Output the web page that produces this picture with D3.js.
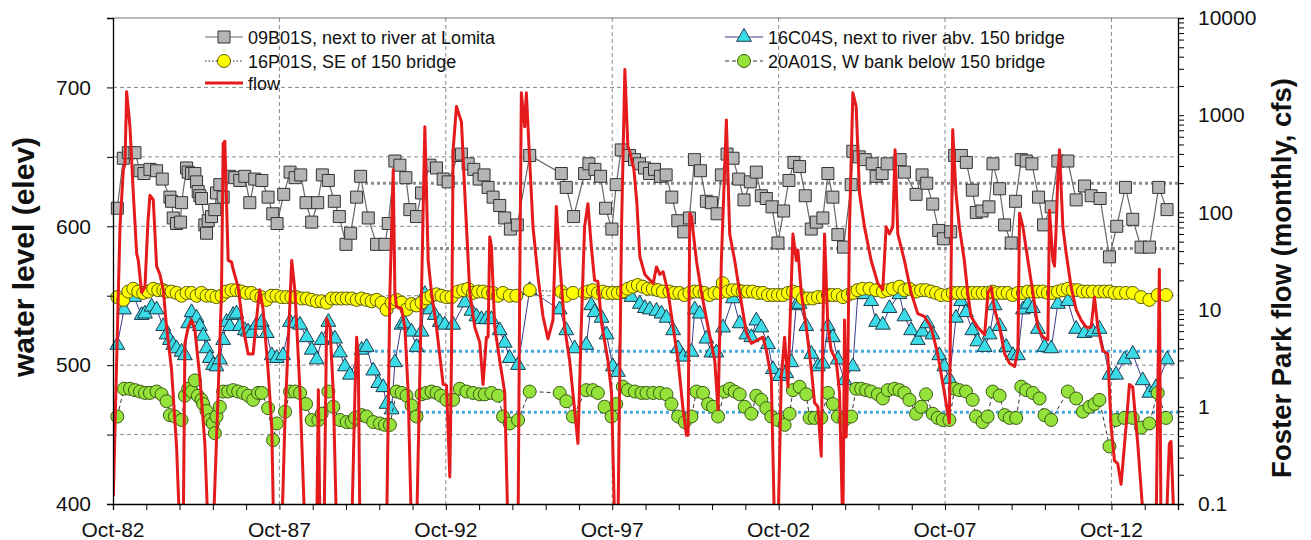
<!DOCTYPE html>
<html>
<head>
<meta charset="utf-8">
<script src="https://cdn.jsdelivr.net/npm/d3@7"></script>
<style>
    body { margin: 0; background: #fff; }
    text { font-family: "Liberation Sans", Arial, sans-serif; fill: #111; }
</style>
</head>
<body>
<div id="chart"></div>
<script>
// ---- data: [decimal year, value] ----
const well09B01S = [
    [1982.88,613],[1983.06,649],[1983.21,653],[1983.41,653],[1983.56,640],[1983.68,638],[1983.86,641],[1984.06,640],
    [1984.23,634],[1984.46,621],[1984.51,618],[1984.56,606],[1984.66,602],[1984.78,603],[1984.81,617],[1984.96,642],
    [1985.01,639],[1985.11,638],[1985.21,638],[1985.26,632],[1985.31,625],[1985.36,622],[1985.41,620],[1985.51,601],
    [1985.56,595],[1985.61,604],[1985.71,607],[1985.81,612],[1985.86,624],[1985.96,630],[1986.06,621],[1986.26,636],
    [1986.41,635],[1986.56,633],[1986.71,636],[1986.86,617],[1987.01,634],[1987.22,633],[1987.41,621],[1987.55,609],
    [1987.68,602],[1987.88,623],[1988.07,639],[1988.22,635],[1988.39,637],[1988.55,617],[1988.72,603],[1988.90,617],
    [1989.04,637],[1989.22,633],[1989.40,618],[1989.55,607],[1989.75,587],[1989.89,595],[1990.07,621],[1990.19,636],
    [1990.42,606],[1990.67,587],[1990.92,587],[1991.02,602],[1991.22,647],[1991.37,644],[1991.55,635],[1991.67,612],
    [1991.87,607],[1992.02,624],[1992.27,644],[1992.47,642],[1992.67,634],[1992.82,632],[1993.12,651],[1993.22,652],
    [1993.42,645],[1993.59,641],[1993.75,634],[1993.90,637],[1994.02,628],[1994.17,621],[1994.37,615],[1994.52,606],
    [1994.69,598],[1994.90,601],[1995.27,651],[1996.22,638],[1996.37,628],[1996.59,607],[1996.92,638],[1997.05,645],
    [1997.23,641],[1997.40,636],[1997.55,613],[1997.74,598],[1997.87,630],[1998.02,655],[1998.27,651],[1998.42,648],
    [1998.57,645],[1998.72,642],[1998.87,638],[1999.02,641],[1999.20,636],[1999.37,637],[1999.54,621],[1999.72,604],
    [1999.90,596],[2000.07,606],[2000.22,648],[2000.40,640],[2000.58,618],[2000.73,617],[2000.90,609],[2001.03,637],
    [2001.20,652],[2001.38,649],[2001.55,634],[2001.71,619],[2001.90,632],[2002.08,639],[2002.23,622],[2002.38,620],
    [2002.55,614],[2002.73,588],[2002.90,611],[2003.06,633],[2003.21,646],[2003.38,643],[2003.55,622],[2003.73,598],
    [2003.88,603],[2004.08,606],[2004.23,638],[2004.38,621],[2004.53,594],[2004.70,585],[2004.93,630],[2004.98,654],
    [2005.17,650],[2005.35,648],[2005.56,645],[2005.68,636],[2005.86,638],[2006.01,645],[2006.40,648],[2006.53,639],
    [2006.88,623],[2007.06,637],[2007.20,631],[2007.38,616],[2007.56,597],[2007.70,591],[2007.92,596],[2008.04,651],
    [2008.24,651],[2008.39,646],[2008.57,626],[2008.69,610],[2008.86,611],[2009.07,614],[2009.19,645],[2009.39,627],
    [2009.54,601],[2009.74,588],[2009.87,618],[2010.04,648],[2010.19,647],[2010.36,645],[2010.56,621],[2010.71,601],
    [2010.94,614],[2011.14,647],[2011.44,647],[2011.69,619],[2011.94,629],[2012.14,622],[2012.41,620],[2012.69,578],
    [2012.91,600],[2013.17,628],[2013.39,605],[2013.64,585],[2013.89,585],[2014.17,628],[2014.42,612]
];

const well16C04S = [
    [1982.88,514.5],[1983.08,540],[1983.38,549],[1983.61,536],[1983.71,537],[1983.91,542],[1984.06,540],[1984.26,528],
    [1984.36,522],[1984.46,518],[1984.56,514.5],[1984.66,512],[1984.81,509.5],[1984.91,507],[1985.01,530],[1985.11,538],
    [1985.26,534],[1985.36,528],[1985.46,521],[1985.56,512],[1985.66,505],[1985.76,500],[1985.86,499],[1985.96,504],
    [1986.06,518],[1986.16,531],[1986.26,528],[1986.36,536],[1986.46,537],[1986.56,528],[1986.71,525],[1986.81,524],
    [1986.91,523],[1987.06,529],[1987.22,531],[1987.37,523],[1987.52,507],[1987.67,505],[1987.86,507],[1988.07,531],
    [1988.22,530],[1988.37,529],[1988.57,520],[1988.72,511],[1988.87,504],[1989.02,518],[1989.22,531],[1989.42,519],
    [1989.57,509],[1989.72,499],[1989.87,493],[1990.22,511],[1990.37,513],[1990.57,496],[1990.72,487],[1990.87,484],
    [1990.97,472],[1991.12,468],[1991.22,502],[1991.42,529],[1991.52,530],[1991.72,524],[1991.87,513],[1992.02,524],
    [1992.12,551],[1992.27,540],[1992.42,536],[1992.57,531],[1992.72,529],[1992.97,529],[1993.32,545],[1993.52,539],
    [1993.67,535],[1993.82,533],[1993.97,533],[1994.12,533],[1994.37,525],[1994.52,516],[1994.67,505],[1994.92,500],
    [1995.27,554],[1996.17,540],[1996.37,525],[1996.62,512],[1996.97,514.5],[1997.12,543],[1997.22,538],[1997.43,534],
    [1997.58,522],[1997.77,499],[1997.92,495],[1998.03,551],[1998.33,549],[1998.58,544],[1998.73,541],[1998.88,540],
    [1999.08,539],[1999.23,537],[1999.38,534],[1999.58,525],[1999.73,512],[1999.88,506],[2000.13,509.5],[2000.23,540],
    [2000.38,537],[2000.58,519],[2000.73,509],[2000.88,509],[2001.08,527],[2001.38,548],[2001.58,530],[2001.78,522],
    [2001.93,520],[2002.08,532],[2002.23,527],[2002.43,515],[2002.58,497],[2002.78,492],[2002.98,494],[2003.13,502],
    [2003.28,543],[2003.38,544],[2003.58,528],[2003.73,508],[2003.93,499],[2004.08,501],[2004.23,528],[2004.38,520],
    [2004.53,504],[2004.73,489],[2004.98,499],[2005.13,551],[2005.33,551],[2005.53,546],[2005.68,531],[2005.88,529],
    [2006.08,541],[2006.38,551],[2006.53,535],[2006.73,525],[2006.93,518],[2007.07,524],[2007.22,530],[2007.37,522],
    [2007.58,507],[2007.73,499],[2007.88,490],[2008.08,534],[2008.23,546],[2008.38,538],[2008.57,525],[2008.72,517],
    [2008.94,513],[2009.09,522],[2009.24,543],[2009.39,528],[2009.59,513],[2009.79,507],[2009.94,507],[2010.09,540],
    [2010.24,544],[2010.39,541],[2010.54,526],[2010.74,513],[2010.94,512],[2011.14,544],[2011.44,546],[2011.69,526],
    [2011.94,523],[2012.19,524],[2012.39,526],[2012.69,493],[2012.89,493],[2013.14,504],[2013.39,508],[2013.69,489],
    [2013.89,480],[2014.09,484],[2014.42,504]
];

const well16P01S = [
    [1982.88,549],[1983.06,547],[1983.21,553],[1983.36,555],[1983.51,553],[1983.66,552],[1983.81,553],[1983.96,555],
    [1984.11,554],[1984.26,554],[1984.36,553],[1984.51,553],[1984.66,552],[1984.81,550],[1984.96,552],[1985.11,552],
    [1985.26,550],[1985.41,552],[1985.56,550],[1985.71,550],[1985.86,549],[1986.01,550],[1986.16,553],[1986.31,554],
    [1986.46,554],[1986.61,553],[1986.76,552],[1986.91,552],[1987.06,550],[1987.21,549],[1987.36,547],[1987.51,550],
    [1987.66,550],[1987.81,549],[1987.96,549],[1988.11,549],[1988.26,549],[1988.42,548],[1988.57,548],[1988.72,547],
    [1988.87,546],[1989.02,546],[1989.17,545],[1989.32,548],[1989.47,548],[1989.62,548],[1989.77,548],[1989.92,548],
    [1990.07,547],[1990.22,548],[1990.37,547],[1990.52,546],[1990.67,547],[1990.82,545],[1990.97,540],[1991.12,545],
    [1991.27,547],[1991.42,545],[1991.57,540],[1991.72,544],[1991.87,543],[1992.02,545],[1992.17,548],[1992.32,550],
    [1992.47,551],[1992.62,550],[1992.77,549],[1992.92,549],[1993.12,553],[1993.27,554],[1993.42,555],[1993.57,552],
    [1993.72,553],[1993.87,553],[1994.02,552],[1994.17,552],[1994.32,550],[1994.47,552],[1994.67,550],[1994.87,550],
    [1995.27,554],[1996.22,553],[1996.37,550],[1996.57,552],[1996.92,552],[1997.02,553],[1997.17,554],[1997.32,552],
    [1997.47,553],[1997.62,552],[1997.77,552],[1997.92,552],[1998.07,553],[1998.22,555],[1998.37,556.5],[1998.52,557.7],
    [1998.67,556.5],[1998.82,555],[1998.97,555],[1999.12,554],[1999.27,553],[1999.47,553],[1999.62,552],[1999.77,552],
    [1999.92,550.5],[2000.07,552],[2000.22,553],[2000.37,553],[2000.52,552],[2000.67,550.5],[2000.82,552],[2000.97,552],
    [2001.07,559],[2001.22,553],[2001.37,554],[2001.52,554],[2001.67,553],[2001.82,553],[2001.97,553],[2002.13,552],
    [2002.28,552],[2002.43,550.5],[2002.58,550.5],[2002.73,550.5],[2002.88,550.5],[2003.03,552],[2003.18,553],[2003.33,552],
    [2003.48,548],[2003.63,548],[2003.78,548],[2003.93,549],[2004.08,549],[2004.23,550.5],[2004.37,550.5],[2004.52,550.5],
    [2004.68,549],[2004.83,550.5],[2004.98,552],[2005.12,554],[2005.27,555],[2005.48,555],[2005.68,554],[2005.88,553],
    [2006.03,554],[2006.18,555],[2006.38,556.5],[2006.53,554],[2006.68,555],[2006.88,553],[2007.03,554],[2007.18,554],
    [2007.33,553],[2007.48,552],[2007.63,550.5],[2007.83,550.5],[2007.98,552],[2008.13,552],[2008.28,552],[2008.43,552],
    [2008.58,552],[2008.73,552],[2008.88,552],[2009.03,552],[2009.18,553],[2009.33,552],[2009.48,552],[2009.63,552],
    [2009.78,550.5],[2009.94,552],[2010.09,552],[2010.24,553],[2010.39,553],[2010.54,553],[2010.69,553],[2010.84,552],
    [2010.99,552],[2011.14,553],[2011.29,554],[2011.44,555],[2011.59,554],[2011.74,554],[2011.89,553],[2012.04,553],
    [2012.19,553],[2012.39,553],[2012.54,553],[2012.69,553],[2012.84,552],[2012.99,552],[2013.19,552],[2013.39,552],
    [2013.64,549],[2013.89,547],[2014.14,550.5],[2014.39,550.5]
];

const well20A01S = [
    [1982.88,463],[1983.08,483],[1983.26,483],[1983.41,482],[1983.56,481],[1983.71,480],[1983.86,480],[1984.06,481],
    [1984.21,479],[1984.36,474],[1984.46,464],[1984.61,463],[1984.81,460.5],[1984.91,478],[1985.01,483],[1985.12,481],
    [1985.21,489],[1985.30,478],[1985.41,475],[1985.46,472],[1985.56,467],[1985.66,460.5],[1985.75,458],[1985.81,451],
    [1985.86,463],[1985.96,470],[1986.06,481],[1986.21,481],[1986.36,482],[1986.51,481],[1986.66,480],[1986.81,478],
    [1986.96,475],[1987.11,480],[1987.22,480],[1987.41,469],[1987.56,446],[1987.67,458],[1987.92,466.5],[1988.07,481],
    [1988.22,481],[1988.37,480],[1988.55,472],[1988.72,460.5],[1988.92,460.5],[1989.02,465],[1989.22,481],[1989.37,470],
    [1989.57,460.5],[1989.77,459],[1989.92,459],[1990.02,462],[1990.22,464],[1990.37,463],[1990.57,459],[1990.77,458],
    [1990.92,457],[1991.07,457],[1991.27,481],[1991.42,480],[1991.57,478],[1991.72,471],[1991.87,463],[1992.02,479],
    [1992.17,480],[1992.32,481],[1992.47,480],[1992.60,478],[1992.77,475],[1992.97,475],[1993.17,483],[1993.37,481],
    [1993.57,480],[1993.77,479],[1993.92,479],[1994.12,480],[1994.32,478],[1994.47,463],[1994.67,458],[1994.92,460.5],
    [1995.27,481],[1996.17,480],[1996.37,474],[1996.57,463],[1996.97,482],[1997.17,482],[1997.32,480],[1997.52,470],
    [1997.73,463],[1997.87,472],[1998.07,484.5],[1998.22,482],[1998.43,481],[1998.63,480],[1998.78,480],[1998.98,480],
    [1999.18,480],[1999.38,479],[1999.53,472],[1999.73,463],[1999.93,459],[2000.13,463],[2000.28,481],[2000.48,480],
    [2000.63,472],[2000.78,470],[2000.93,463],[2001.13,481],[2001.28,483],[2001.43,481],[2001.58,479],[2001.73,470],
    [2001.93,465],[2002.08,478],[2002.23,475],[2002.38,469],[2002.53,463],[2002.73,460.5],[2002.93,457],[2003.08,465],
    [2003.18,482],[2003.38,484.5],[2003.58,479],[2003.68,462],[2003.83,462],[2004.03,462],[2004.23,480],[2004.38,472],
    [2004.53,463],[2004.73,460.5],[2004.93,463],[2005.08,483],[2005.23,483],[2005.38,482],[2005.53,481],[2005.73,479],
    [2005.88,476],[2006.03,482],[2006.23,483],[2006.38,482],[2006.53,480],[2006.68,475],[2006.88,465],[2007.03,470],
    [2007.18,479],[2007.38,465],[2007.53,462],[2007.68,460.5],[2007.88,460.5],[2008.04,483],[2008.18,482],[2008.38,481],
    [2008.58,475],[2008.68,463],[2008.88,459],[2009.03,463],[2009.18,481],[2009.39,478],[2009.54,464],[2009.69,462],
    [2009.89,462],[2010.04,484.5],[2010.19,482],[2010.39,480],[2010.59,476],[2010.74,464],[2010.94,460.5],[2011.44,481],
    [2011.69,476],[2011.89,466.5],[2012.09,470],[2012.24,472],[2012.39,475],[2012.69,441.5],[2012.89,460.5],[2013.14,462],
    [2013.39,462],[2013.64,455],[2013.89,458],[2014.14,480],[2014.39,462]
];

// monthly flow, cfs (values under 0.1 fall below the axis)
const flowCfs = [
    [1982.76,0.12],[1982.86,3.0],[1982.96,71],[1983.06,275],[1983.11,316],[1983.16,1740],[1983.26,760],[1983.36,158],
    [1983.46,38],[1983.51,32],[1983.61,15],[1983.71,17],[1983.80,80],[1983.86,150],[1983.96,135],[1984.06,28],
    [1984.16,23],[1984.26,16],[1984.36,6.6],[1984.51,2.4],[1984.66,0.39],[1984.76,0.05],[1984.86,0.05],[1984.91,4.5],
    [1985.01,6.6],[1985.11,7.8],[1985.21,6.2],[1985.36,2.0],[1985.51,0.42],[1985.61,0.05],[1985.76,0.05],[1985.91,1.4],
    [1986.01,15],[1986.06,510],[1986.11,540],[1986.21,32],[1986.31,31],[1986.36,26],[1986.51,17],[1986.66,6.6],
    [1986.81,3.5],[1986.96,3.5],[1987.11,11.5],[1987.16,16],[1987.26,10],[1987.41,2.4],[1987.52,0.63],[1987.58,0.05],
    [1987.82,0.05],[1987.92,0.8],[1988.12,32],[1988.22,15],[1988.37,1.4],[1988.52,0.05],[1988.87,0.05],[1988.92,1.5],
    [1988.97,0.05],[1989.09,0.05],[1989.17,8.1],[1989.27,6.6],[1989.37,1.4],[1989.47,0.05],[1989.92,0.05],[1990.02,1.4],
    [1990.07,5.2],[1990.12,3.2],[1990.17,0.05],[1990.97,0.05],[1991.07,15],[1991.17,275],[1991.22,15],[1991.27,10.7],
    [1991.42,10.2],[1991.52,6.6],[1991.62,1.4],[1991.72,0.05],[1991.87,0.05],[1992.02,15],[1992.12,760],[1992.17,158],
    [1992.22,32],[1992.32,15],[1992.47,6.6],[1992.67,1.7],[1992.77,1.66],[1992.87,0.19],[1992.92,3.0],[1992.97,440],
    [1993.07,1230],[1993.22,850],[1993.32,160],[1993.47,15],[1993.62,6.6],[1993.77,4.6],[1993.87,1.7],[1993.97,5.2],
    [1994.02,5.2],[1994.07,56],[1994.12,45],[1994.22,6.6],[1994.37,3.0],[1994.52,1.4],[1994.62,0.05],[1994.92,0.05],
    [1994.97,15],[1995.02,1700],[1995.12,760],[1995.17,1700],[1995.22,760],[1995.37,71],[1995.52,22],[1995.67,8.5],
    [1995.82,5.0],[1995.97,7.8],[1996.07,115],[1996.17,32],[1996.32,6.6],[1996.47,3.0],[1996.62,0.93],[1996.72,0.42],
    [1996.82,6.6],[1996.92,71],[1997.02,123],[1997.12,45],[1997.22,20],[1997.32,19.5],[1997.43,7.2],[1997.62,3.0],
    [1997.73,1.4],[1997.83,0.05],[1997.92,0.05],[1998.03,71],[1998.13,2950],[1998.22,480],[1998.28,420],[1998.40,280],
    [1998.49,126],[1998.58,35],[1998.73,23],[1998.98,18.6],[1999.08,27.5],[1999.18,23],[1999.28,24.5],[1999.43,15],
    [1999.58,6.6],[1999.73,3.0],[1999.88,0.93],[1999.98,0.51],[2000.03,0.51],[2000.08,98],[2000.13,91],[2000.28,32],
    [2000.43,15],[2000.63,6.6],[2000.83,3.0],[2000.93,0.93],[2001.03,32],[2001.18,890],[2001.28,60],[2001.43,32],
    [2001.58,15],[2001.78,5.8],[2001.93,4.5],[2002.13,4.9],[2002.28,5.2],[2002.38,3.8],[2002.53,2.0],[2002.63,0.05],
    [2002.73,0.05],[2002.83,2.0],[2002.93,5.2],[2003.03,1.6],[2003.18,60],[2003.28,32],[2003.33,41],[2003.43,15],
    [2003.58,6.6],[2003.73,2.5],[2003.83,1.1],[2003.93,1.0],[2004.03,0.31],[2004.08,6.6],[2004.13,60],[2004.23,6.6],
    [2004.33,3.8],[2004.48,3.0],[2004.58,1.4],[2004.68,0.05],[2004.73,7.8],[2004.78,0.49],[2004.83,3.0],[2004.88,71],
    [2004.98,1700],[2005.08,1230],[2005.18,158],[2005.33,71],[2005.53,32],[2005.73,18.6],[2005.88,16],[2005.98,71],
    [2006.08,60],[2006.18,71],[2006.25,440],[2006.33,60],[2006.53,32],[2006.73,15],[2006.93,9.1],[2007.13,8.5],
    [2007.33,6.6],[2007.53,3.5],[2007.73,1.4],[2007.88,0.68],[2007.98,710],[2008.08,158],[2008.18,71],[2008.33,32],
    [2008.43,15],[2008.53,8.5],[2008.73,6.6],[2008.94,5.5],[2009.04,15],[2009.14,17],[2009.24,10],[2009.39,6.6],
    [2009.54,3.5],[2009.69,2.8],[2009.84,2.6],[2009.94,3.8],[2009.99,98],[2010.09,71],[2010.24,32],[2010.39,15],
    [2010.54,6.6],[2010.69,5.2],[2010.84,4.9],[2010.89,105],[2010.99,32],[2011.04,28],[2011.09,71],[2011.14,234],
    [2011.19,440],[2011.29,71],[2011.39,38],[2011.54,17],[2011.69,10],[2011.84,7.8],[2011.99,6.6],[2012.14,6.6],
    [2012.24,13.5],[2012.34,6.6],[2012.49,3.8],[2012.64,3.5],[2012.74,0.63],[2012.84,0.28],[2012.94,0.26],[2013.04,0.16],
    [2013.19,0.63],[2013.29,1.7],[2013.39,1.6],[2013.54,0.42],[2013.74,0.05],[2014.09,0.05],[2014.19,26],[2014.24,0.05],
    [2014.39,0.05],[2014.49,0.42],[2014.54,0.44],[2014.64,0.05]
];

// dotted reference levels: [start year, elevation]
const refGray = [[1990.32, 631], [1990.77, 584]];
const refBlue = [[1990.26, 510], [1991.07, 466]];

// tick labels
const xLabelYears = ["82", "87", "92", "97", "02", "07", "12"];
const leftTickLabels = [400, 500, 600, 700];
const rightTickLabels = [0.1, 1, 10, 100, 1000, 10000];

const legendNames = [
    "09B01S, next to river at Lomita",
    "16C04S, next to river abv. 150 bridge",
    "16P01S, SE of 150 bridge",
    "20A01S, W bank below 150 bridge",
    "flow"
];

// ---- layout ----
const W = 1311, H = 540;
const plot = {left: 113, right: 1178, top: 18, bottom: 504};

const svg = d3.select("#chart").append("svg")
    .attr("width", W)
    .attr("height", H);

const x = d3.scaleLinear().domain([1982.75, 2014.75]).range([plot.left, plot.right]);
const yL = d3.scaleLinear().domain([400, 750]).range([plot.bottom, plot.top]);
const yR = d3.scaleLog().domain([0.1, 10000]).range([plot.bottom, plot.top]);

svg.append("clipPath").attr("id", "plotClip")
    .append("rect")
    .attr("x", plot.left).attr("y", plot.top)
    .attr("width", plot.right - plot.left).attr("height", plot.bottom - plot.top);

// grid
const gridColor = "#8a8a8a";
const grid = svg.append("g");
grid.selectAll(".hgrid")
    .data(d3.range(450, 750, 50))
    .join("line")
    .attr("x1", plot.left).attr("x2", plot.right)
    .attr("y1", d => yL(d)).attr("y2", d => yL(d))
    .attr("stroke", gridColor).attr("stroke-width", 1).attr("stroke-dasharray", "4,3");

grid.selectAll(".vgrid")
    .data(xLabelYears.slice(1))
    .join("line")
    .attr("x1", d => x(1900 + (+d < 50 ? 100 : 0) + (+d) + 0.75))
    .attr("x2", d => x(1900 + (+d < 50 ? 100 : 0) + (+d) + 0.75))
    .attr("y1", plot.top).attr("y2", plot.bottom)
    .attr("stroke", gridColor).attr("stroke-width", 1).attr("stroke-dasharray", "4,3");

// top border
svg.append("line")
    .attr("x1", plot.left).attr("x2", plot.right)
    .attr("y1", plot.top).attr("y2", plot.top)
    .attr("stroke", "#777").attr("stroke-width", 1.2);

// reference levels
const refG = svg.append("g");
refG.selectAll(".refGray")
    .data(refGray)
    .join("line")
    .attr("x1", d => x(d[0])).attr("x2", plot.right)
    .attr("y1", d => yL(d[1])).attr("y2", d => yL(d[1]))
    .attr("stroke", "#8c8c8c").attr("stroke-width", 3).attr("stroke-dasharray", "3,3");
refG.selectAll(".refBlue")
    .data(refBlue)
    .join("line")
    .attr("x1", d => x(d[0])).attr("x2", plot.right)
    .attr("y1", d => yL(d[1])).attr("y2", d => yL(d[1]))
    .attr("stroke", "#45a8dc").attr("stroke-width", 3).attr("stroke-dasharray", "3,3");

// series helpers
const lineL = d3.line().x(d => x(d[0])).y(d => yL(d[1]));

function drawSeries(data, lineStyle, marker) {
    const g = svg.append("g");
    g.append("path")
        .datum(data)
        .attr("d", lineL)
        .attr("fill", "none")
        .attr("stroke", lineStyle.color)
        .attr("stroke-width", lineStyle.width)
        .attr("stroke-dasharray", lineStyle.dash || null);
    g.selectAll("path.mk")
        .data(data)
        .join("path")
        .attr("class", "mk")
        .attr("transform", d => `translate(${x(d[0])},${yL(d[1])})`)
        .attr("d", marker.path)
        .attr("fill", marker.fill)
        .attr("stroke", marker.stroke)
        .attr("stroke-width", 1);
}

const squarePath = "M-6,-6H6V6H-6Z";
const trianglePath = d3.symbol(d3.symbolTriangle, 95)();
const circlePath = d3.symbol(d3.symbolCircle, Math.PI * 6.5 * 6.5)();

const styles = {
    gray:   {line: {color: "#666", width: 1.2}, marker: {path: squarePath, fill: "#b5b5b5", stroke: "#333"}},
    cyan:   {line: {color: "#3b3b8f", width: 1}, marker: {path: trianglePath, fill: "#3cdbe8", stroke: "#1d3a4a"}},
    yellow: {line: {color: "#222", width: 1, dash: "1.5,2"}, marker: {path: circlePath, fill: "#ffff00", stroke: "#5a5a10"}},
    green:  {line: {color: "#333", width: 1, dash: "4,3"}, marker: {path: circlePath, fill: "#94e23a", stroke: "#3a5a14"}}
};

drawSeries(well09B01S, styles.gray.line, styles.gray.marker);
drawSeries(well16C04S, styles.cyan.line, styles.cyan.marker);
drawSeries(well16P01S, styles.yellow.line, styles.yellow.marker);
drawSeries(well20A01S, styles.green.line, styles.green.marker);

// flow on log axis
svg.append("path")
    .datum(flowCfs)
    .attr("clip-path", "url(#plotClip)")
    .attr("d", d3.line().x(d => x(d[0])).y(d => yR(d[1])))
    .attr("fill", "none")
    .attr("stroke", "#e41a1c")
    .attr("stroke-width", 3)
    .attr("stroke-linejoin", "round");

// axes
const axisFont = 21;

const xAxis = d3.axisBottom(x)
    .tickValues(d3.range(1982.75, 2014.8, 1))
    .tickSize(6)
    .tickFormat("");
svg.append("g")
    .attr("transform", `translate(0,${plot.bottom})`)
    .call(xAxis)
    .call(g => g.select(".domain").attr("stroke", "#000").attr("stroke-width", 1.3))
    .call(g => g.selectAll(".tick line").attr("stroke", "#000"));

svg.append("g").selectAll("text")
    .data(xLabelYears)
    .join("text")
    .attr("x", d => x(1900 + (+d < 50 ? 100 : 0) + (+d) + 0.75))
    .attr("y", 537)
    .attr("text-anchor", "middle")
    .style("font-size", axisFont + "px")
    .text(d => "Oct-" + d);

const yAxisL = d3.axisLeft(yL)
    .tickValues(d3.range(400, 751, 50))
    .tickSize(6)
    .tickFormat(d => leftTickLabels.includes(d) ? d : "");
svg.append("g")
    .attr("transform", `translate(${plot.left},0)`)
    .call(yAxisL)
    .call(g => g.select(".domain").attr("stroke", "#000").attr("stroke-width", 1.3))
    .call(g => g.selectAll(".tick line").attr("stroke", "#000"))
    .call(g => g.selectAll(".tick text")
        .attr("x", -22)
        .style("font-size", axisFont + "px")
        .style("font-family", "'Liberation Sans', Arial, sans-serif")
        .attr("fill", "#111"));

// log axis with minor ticks
const minorTicks = [];
rightTickLabels.forEach(v => {
    if (v < 10000) d3.range(2, 10).forEach(m => minorTicks.push(v * m));
});
const yAxisR = d3.axisRight(yR)
    .tickValues(rightTickLabels.concat(minorTicks))
    .tickSize(6)
    .tickFormat(d => rightTickLabels.includes(d) ? d : "");
svg.append("g")
    .attr("transform", `translate(${plot.right},0)`)
    .call(yAxisR)
    .call(g => g.select(".domain").attr("stroke", "#000").attr("stroke-width", 1.3))
    .call(g => g.selectAll(".tick line").attr("stroke", "#000"))
    .call(g => g.selectAll(".tick text")
        .attr("x", 20)
        .style("font-size", axisFont + "px")
        .style("font-family", "'Liberation Sans', Arial, sans-serif")
        .attr("fill", "#111"));

// axis titles
svg.append("text")
    .attr("transform", `translate(34,257) rotate(-90)`)
    .attr("text-anchor", "middle")
    .style("font-size", "30px")
    .style("font-weight", "bold")
    .text("water level (elev)");

svg.append("text")
    .attr("transform", `translate(1291,278) rotate(-90)`)
    .attr("text-anchor", "middle")
    .style("font-size", "27.5px")
    .style("font-weight", "bold")
    .text("Foster Park flow (monthly, cfs)");

// legend
const legendItems = [
    {name: legendNames[0], x: 205, y: 37, s: styles.gray},
    {name: legendNames[1], x: 725, y: 37, s: styles.cyan},
    {name: legendNames[2], x: 205, y: 61, s: styles.yellow},
    {name: legendNames[3], x: 725, y: 61, s: styles.green},
    {name: legendNames[4], x: 205, y: 83, s: null}
];
const legend = svg.append("g");
legendItems.forEach(item => {
    const g = legend.append("g").attr("transform", `translate(${item.x},${item.y})`);
    if (item.s) {
        g.append("line")
            .attr("x1", 0).attr("x2", 38)
            .attr("stroke", item.s.line.color)
            .attr("stroke-width", item.s.line.width)
            .attr("stroke-dasharray", item.s.line.dash || null);
        g.append("path")
            .attr("transform", "translate(19,0)")
            .attr("d", item.s.marker.path)
            .attr("fill", item.s.marker.fill)
            .attr("stroke", item.s.marker.stroke);
    } else {
        g.append("line")
            .attr("x1", 0).attr("x2", 38)
            .attr("stroke", "#e41a1c")
            .attr("stroke-width", 3);
    }
    g.append("text")
        .attr("x", 43)
        .attr("y", 6.5)
        .style("font-size", "18px")
        .text(item.name);
});
</script>
</body>
</html>
